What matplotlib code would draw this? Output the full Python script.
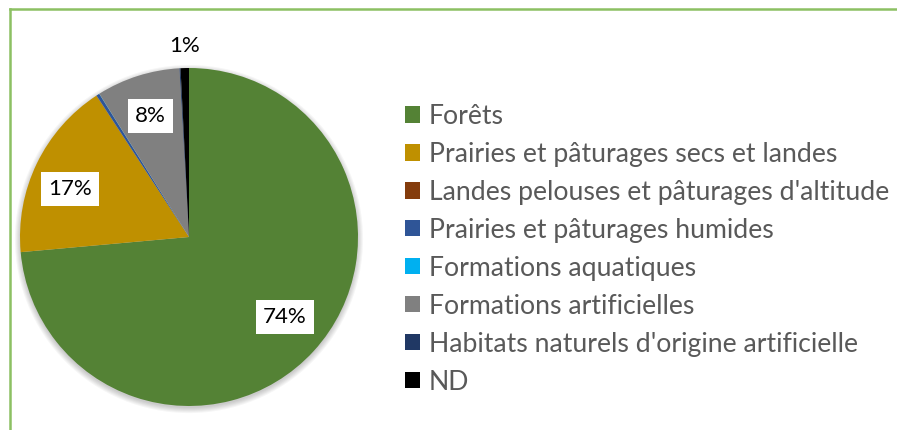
import numpy as np
import matplotlib
matplotlib.use("Agg")
from matplotlib import pyplot as plt
from matplotlib.lines import Line2D
from matplotlib.patches import Circle

# shares of each habitat type (%)
categories = ["Forêts", "Prairies et pâturages secs et landes",
              "Landes pelouses et pâturages d'altitude",
              "Prairies et pâturages humides", "Formations aquatiques",
              "Formations artificielles",
              "Habitats naturels d'origine artificielle", "ND"]
shares = [73.6, 17.2, 0.02, 0.3, 0.02, 8.0, 0.1, 0.8]
colors = ["#548235", "#BF9000", "#843C0C", "#2F5597", "#00B0F0",
          "#808080", "#203864", "#000000"]

plt.rcParams['font.family'] = ['Lato', 'DejaVu Sans']

fig = plt.figure(figsize=(8.97, 4.30), dpi=100)
W, H = 897, 430

# pie axes : centre (189, 237) px, radius ~169 px
cx, cy, r = 189, 237, 169
ax = fig.add_axes([(cx - r) / W, 1 - (cy + r) / H, 2 * r / W, 2 * r / H])
ax.set_clip_on(False)

# soft shadow under the pie
for k in range(6):
    ax.add_patch(Circle((0, -0.012), 1.0 + 0.006 * k, color='black',
                        alpha=0.035, lw=0, zorder=0, clip_on=False))

def fmt(p):
    return "%d%%" % round(p) if p >= 0.5 else ""

wedges, texts, autotexts = ax.pie(shares, colors=colors, startangle=90,
                                  counterclock=False, autopct=fmt,
                                  pctdistance=0.75,
                                  textprops={'fontsize': 16, 'color': 'black'},
                                  wedgeprops={'linewidth': 0, 'zorder': 2})
ax.set_xlim(-1, 1)
ax.set_ylim(-1, 1)

for w, t in zip(wedges, autotexts):
    if t.get_text() == "":
        continue
    t.set_zorder(3)
    t.set_bbox(dict(facecolor='white', edgecolor='none', pad=5))
    ang = np.deg2rad((w.theta1 + w.theta2) / 2)
    if t.get_text() == "1%":
        t.set_position((1.13 * np.cos(ang), 1.13 * np.sin(ang)))
    elif t.get_text() == "17%":
        ang = ang + np.deg2rad(4)
        t.set_position((0.76 * np.cos(ang), 0.76 * np.sin(ang)))
    elif t.get_text() == "74%":
        ang = ang + np.deg2rad(2.5)
        t.set_position((0.74 * np.cos(ang), 0.74 * np.sin(ang)))

fig.legend(wedges, categories, loc='upper left',
           bbox_to_anchor=(405 / W, 1 - 104 / H), frameon=False,
           fontsize=19.2, labelcolor='#595959', handlelength=0.56,
           handleheight=0.56, handletextpad=0.34, labelspacing=0.485,
           borderaxespad=0, borderpad=0)

# green chart frame
fig.add_artist(Line2D([10 / W, 10 / W], [0, 1 - 9 / H], color='#8CC063',
                      lw=1.8, transform=fig.transFigure))
fig.add_artist(Line2D([10 / W, 1], [1 - 9 / H, 1 - 9 / H], color='#8CC063',
                      lw=1.8, transform=fig.transFigure))

fig.savefig("out.png", dpi=100)
